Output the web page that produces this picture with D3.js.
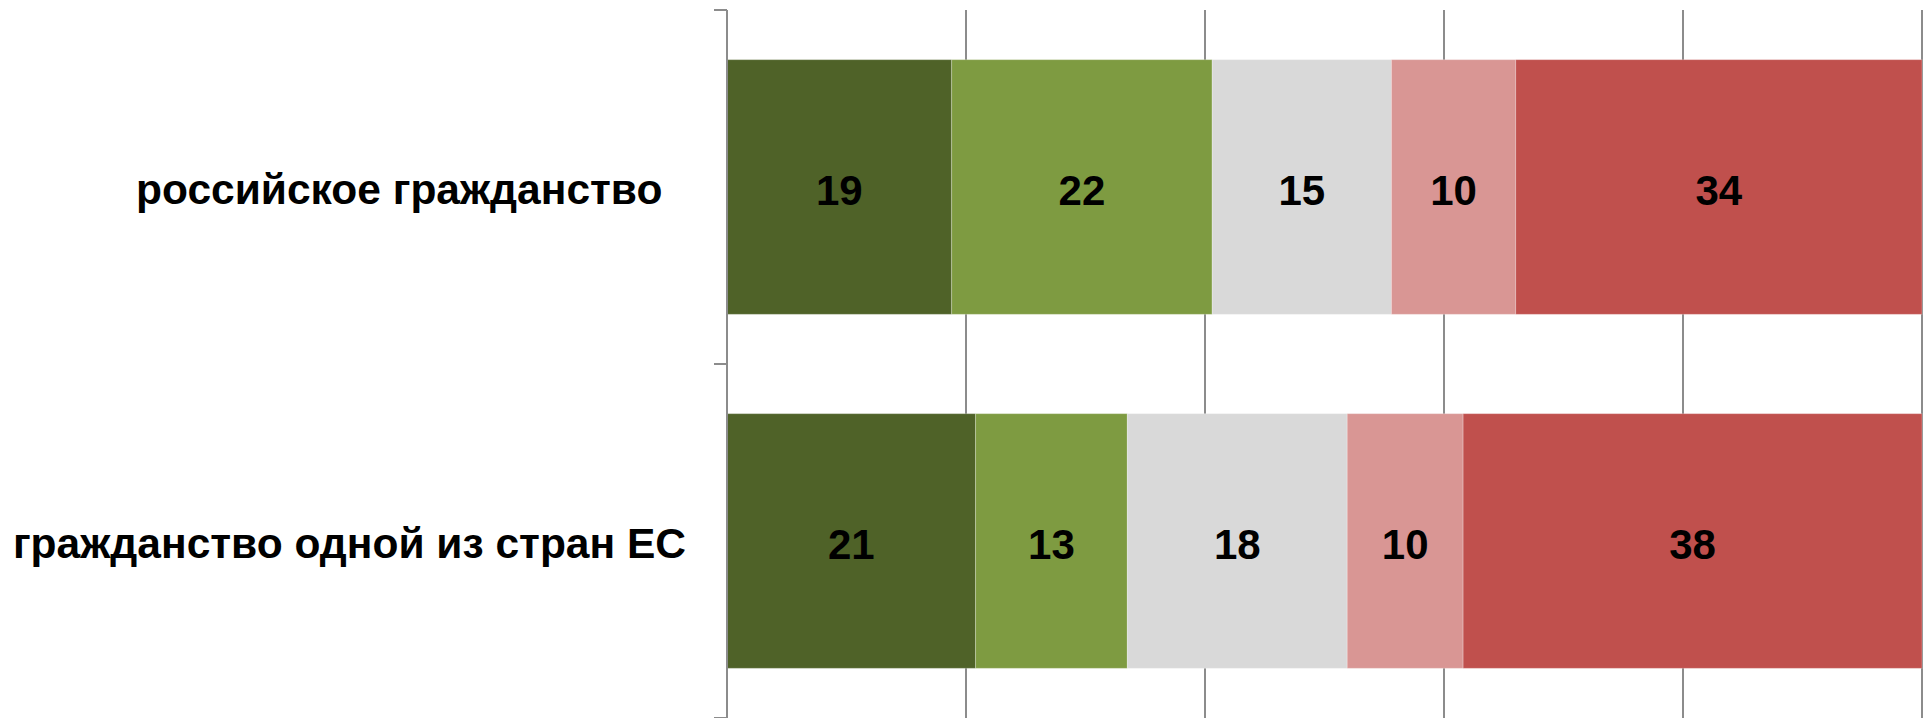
<!DOCTYPE html>
<html>
<head>
<meta charset="utf-8">
<script src="https://cdn.jsdelivr.net/npm/d3@7"></script>
<style>
  body { margin: 0; background: #fff; }
  svg { display: block; }
  .cat { font-family: "Liberation Sans", Arial, sans-serif; font-weight: bold; font-size: 42.5px; white-space: pre; }
  .val { font-family: "Liberation Sans", Arial, sans-serif; font-weight: bold; font-size: 42px; }
</style>
</head>
<body>
<svg id="vis" width="1927" height="718"></svg>
<script>
// categories, top to bottom
const categories = ["российское гражданство\u00a0\u00a0", "гражданство одной из стран ЕС"];
// answer groups, left to right (shares in %, labels show them rounded)
const series = ["s1", "s2", "s3", "s4", "s5"];
const values = [
  [18.8, 21.8, 15.0, 10.4, 34.0],
  [20.8, 12.7, 18.4, 9.7, 38.4]
];
const colors = ["#4f6228", "#7e9b41", "#d9d9d9", "#d99694", "#c0504d"];
const gridTicks = [0, 20, 40, 60, 80, 100];

const width = 1927, height = 718;
const svg = d3.select("svg#vis");
const fmt = d3.format(".0f");

const x = d3.scaleLinear().domain([0, 100]).range([727, 1922]);
// each category band is 354px tall; last one runs past the bottom edge
const y = d3.scaleBand().domain(categories).range([10, 718]).padding(0);
const gap = 0.39; // excel gap width
const barH = y.bandwidth() / (1 + gap);
const barOff = (y.bandwidth() - barH) / 2;

// gridlines
svg.append("g")
  .selectAll("line")
  .data(gridTicks.slice(1))
  .enter()
  .append("line")
  .attr("x1", d => x(d)).attr("x2", d => x(d))
  .attr("y1", 10).attr("y2", height)
  .attr("stroke", "#8c8c8c")
  .attr("stroke-width", 2);

// stacked segments
const rows = categories.map((c, i) => {
  let acc = 0;
  return values[i].map((v, j) => {
    const seg = {cat: c, s: j, v: v, x0: acc, x1: acc + v};
    acc += v;
    return seg;
  });
});

const seg = svg.append("g").selectAll("g.row")
  .data(rows)
  .enter()
  .append("g")
  .attr("class", "row");

seg.selectAll("rect")
  .data(d => d)
  .enter()
  .append("rect")
  .attr("x", d => x(d.x0))
  .attr("y", d => y(d.cat) + barOff)
  .attr("width", d => x(d.x1) - x(d.x0))
  .attr("height", barH)
  .attr("fill", d => colors[d.s])
  .attr("stroke", "rgba(255,255,255,0.25)")
  .attr("stroke-width", 1);

seg.selectAll("text")
  .data(d => d)
  .enter()
  .append("text")
  .attr("class", "val")
  .attr("x", d => (x(d.x0) + x(d.x1)) / 2)
  .attr("y", d => y(d.cat) + y.bandwidth() / 2 + 17.5)
  .attr("text-anchor", "middle")
  .attr("fill", "#000")
  .text(d => fmt(d.v));

// category axis
const axis = svg.append("g");
axis.append("line")
  .attr("x1", x(0)).attr("x2", x(0))
  .attr("y1", 10).attr("y2", height)
  .attr("stroke", "#8c8c8c").attr("stroke-width", 2);
axis.selectAll("line.tick")
  .data([10, 10 + y.step(), 10 + 2 * y.step()])
  .enter()
  .append("line")
  .attr("class", "tick")
  .attr("x1", x(0) - 13).attr("x2", x(0))
  .attr("y1", d => d).attr("y2", d => d)
  .attr("stroke", "#8c8c8c").attr("stroke-width", 2);

axis.selectAll("text.cat")
  .data(categories)
  .enter()
  .append("text")
  .attr("class", "cat")
  .attr("x", x(0) - 41)
  .attr("y", d => y(d) + y.bandwidth() / 2 + 17)
  .attr("text-anchor", "end")
  .text(d => d);
</script>
</body>
</html>
